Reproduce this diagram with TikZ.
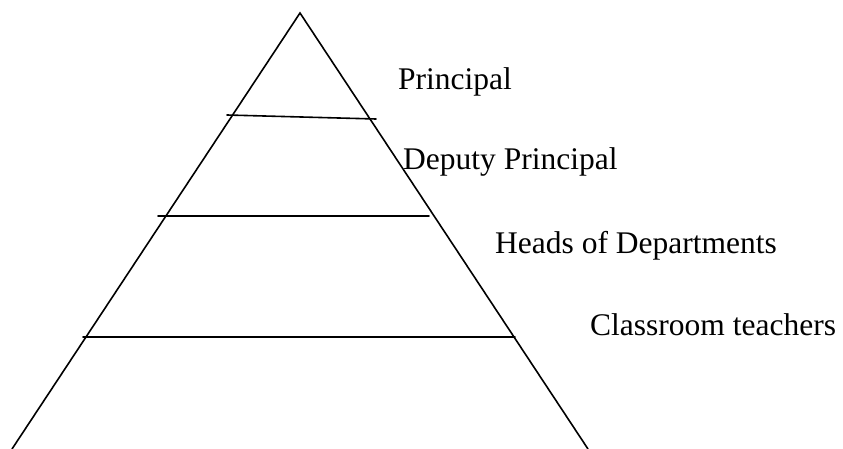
\documentclass[tikz,border=0pt]{standalone}
\usepackage{fontspec}
\setmainfont{Liberation Serif}
\begin{document}
\begin{tikzpicture}[x=1pt,y=-1pt,
  edge/.style={line width=1.6pt,line cap=round},
  lbl/.style={anchor=base west,inner sep=0pt,font=\fontsize{31.5}{36}\selectfont}]
\useasboundingbox (0,0) rectangle (843,449);
\coordinate (apex) at (300,13);
\coordinate (bl) at (12,449);
\coordinate (br) at (588,449);
\coordinate (a1) at (227,115);
\coordinate (b1) at (376,119);
\coordinate (a2) at (158,216);
\coordinate (b2) at (429,216);
\coordinate (a3) at (83,337);
\coordinate (b3) at (515,337);
\draw[edge,line join=miter] (bl) -- (apex) -- (br);
\draw[edge] (a1) -- (b1);
\draw[edge] (a2) -- (b2);
\draw[edge] (a3) -- (b3);
\node[lbl] (p) at (398,90) {Principal};
\node[lbl] (dp) at (403,170) {Deputy Principal};
\node[lbl] (hod) at (495,253) {Heads of Departments};
\node[lbl] (ct) at (590,335) {Classroom teachers};
\end{tikzpicture}
\end{document}
